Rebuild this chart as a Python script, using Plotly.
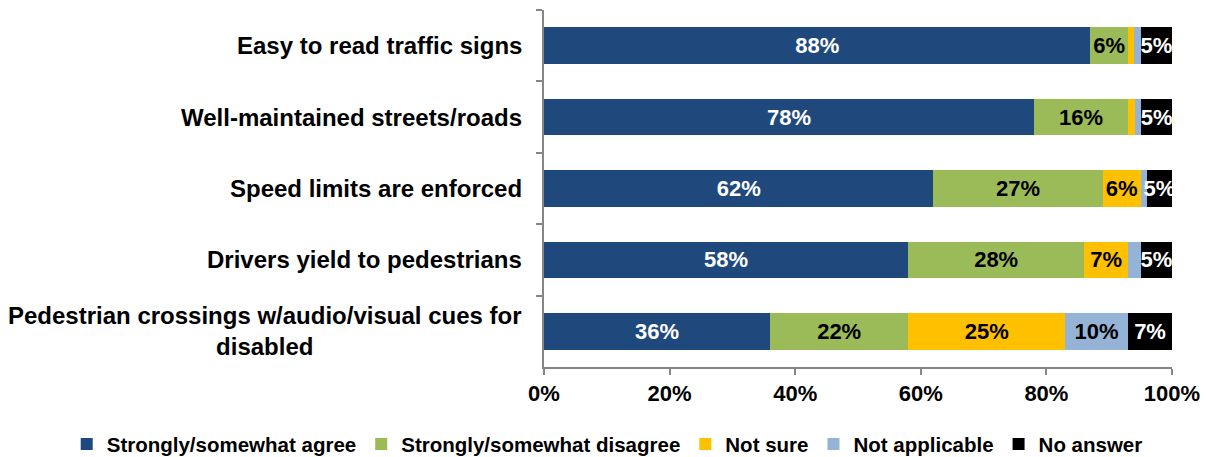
import plotly.graph_objects as go

# survey statements, top to bottom
categories = [
    "Easy to read traffic signs",
    "Well-maintained streets/roads",
    "Speed limits are enforced",
    "Drivers yield to pedestrians",
    "Pedestrian crossings w/audio/visual cues for<br>disabled",
]

# segment lengths (percent of row)
agree = [87, 78, 62, 58, 36]
disagree = [6, 15, 27, 28, 22]
not_sure = [1, 1.1, 6, 7, 25]
not_applicable = [1, 1, 1, 2, 10]
no_answer = [5, 4.9, 4, 5, 7]

# data labels as printed on the chart
agree_labels = ["88%", "78%", "62%", "58%", "36%"]
disagree_labels = ["6%", "16%", "27%", "28%", "22%"]
not_sure_labels = ["", "", "6%", "7%", "25%"]
not_applicable_labels = ["", "", "", "", "10%"]
no_answer_labels = ["5%", "5%", "5%", "5%", "7%"]

x_ticks = [0, 20, 40, 60, 80, 100]

FONT = "Liberation Sans, Arial, sans-serif"
AXIS_GREY = "#868686"

series = [
    ("Strongly/somewhat agree", agree, agree_labels, "#1F497D", "white"),
    ("Strongly/somewhat disagree", disagree, disagree_labels, "#9BBB59", "black"),
    ("Not sure", not_sure, not_sure_labels, "#FFC000", "black"),
    ("Not applicable", not_applicable, not_applicable_labels, "#95B3D7", "black"),
    ("No answer", no_answer, no_answer_labels, "#000000", "white"),
]

fig = go.Figure()
for name, values, labels, colour, text_colour in series:
    fig.add_trace(go.Bar(
        name=name, y=categories, x=values, orientation="h",
        marker={"color": colour, "line": {"width": 0}},
        text=labels, textposition="inside", insidetextanchor="middle",
        textangle=0,
        textfont={"family": FONT, "size": 22, "color": text_colour, "weight": "bold"},
        cliponaxis=False,
    ))

# category labels as annotations so the wrapped one stays centred
for cat in categories:
    fig.add_annotation(
        x=-0.032, xref="paper", y=cat, yref="y",
        text=cat, showarrow=False, xanchor="right", yanchor="middle",
        align="center",
        font={"family": FONT, "size": 24, "color": "black", "weight": "bold"},
    )

# page body adds an 8px margin, so the figure is sized to the visible area
fig.update_layout(
    barmode="stack",
    bargap=0.49,
    width=1200, height=449,
    margin={"l": 536, "r": 36, "t": 2, "b": 90, "autoexpand": False},
    paper_bgcolor="white", plot_bgcolor="white",
    font={"family": FONT, "color": "black"},
    uniformtext={"minsize": 22, "mode": "show"},
    showlegend=True,
    legend={
        "orientation": "h", "x": -0.76, "xanchor": "left",
        "y": -0.272, "yanchor": "bottom",
        "font": {"family": FONT, "size": 20.5, "weight": "bold"},
        "itemwidth": 30, "traceorder": "normal",
    },
)

fig.update_xaxes(
    range=[0, 100], tickvals=x_ticks, ticktext=[f"{v}%" for v in x_ticks],
    showgrid=False, zeroline=False,
    showline=True, linecolor=AXIS_GREY, linewidth=1.5,
    ticks="outside", ticklen=6, tickcolor=AXIS_GREY, tickwidth=1.5,
    tickfont={"family": FONT, "size": 22, "weight": "bold"},
)
fig.update_yaxes(
    categoryorder="array", categoryarray=categories, autorange="reversed",
    tickson="boundaries", showgrid=False, showticklabels=False,
    showline=True, linecolor=AXIS_GREY, linewidth=1.5,
    ticks="outside", ticklen=6, tickcolor=AXIS_GREY, tickwidth=1.5,
)

fig.write_html("out.html")
